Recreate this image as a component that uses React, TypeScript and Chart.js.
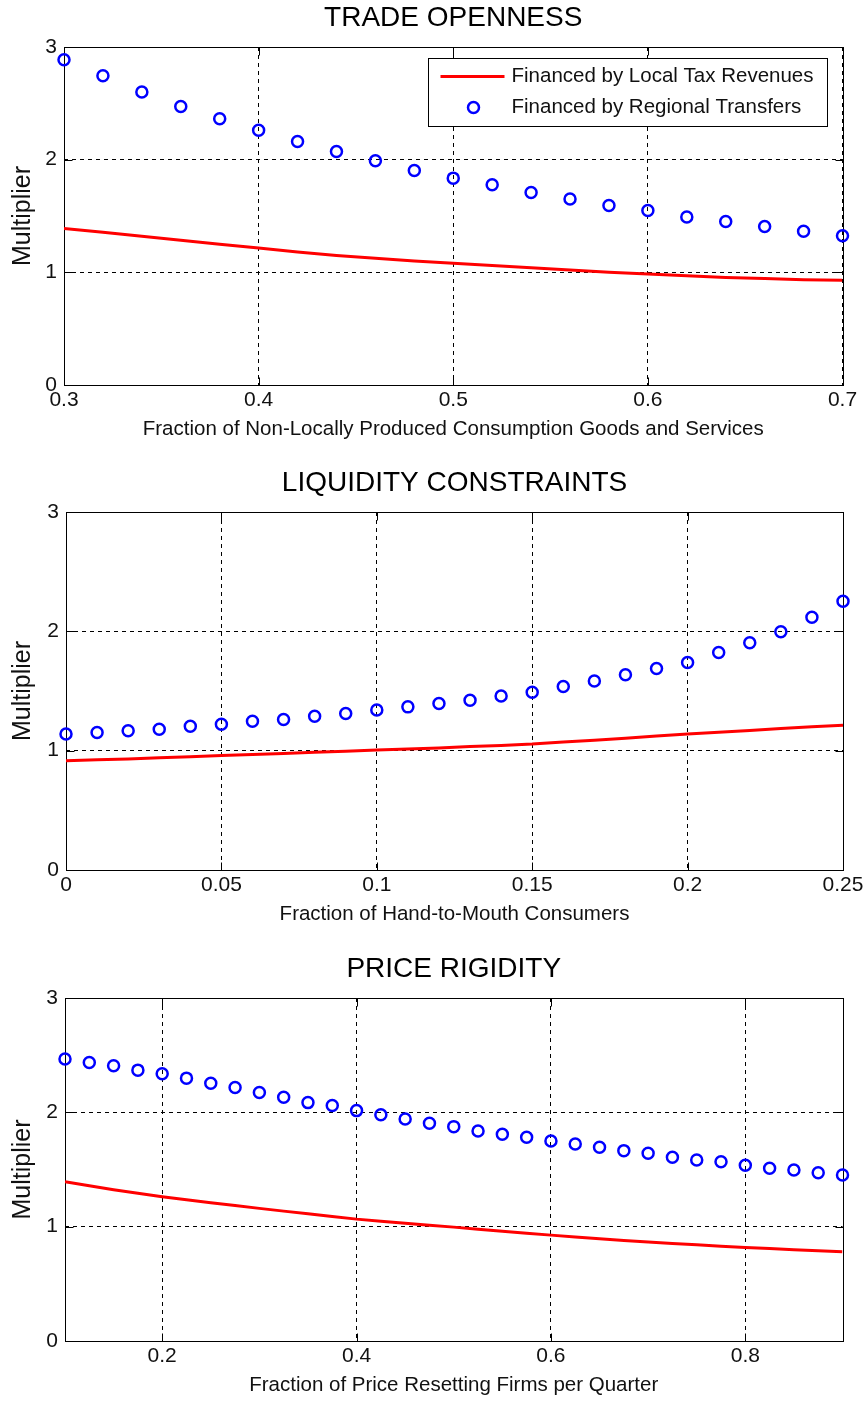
import { useEffect, useRef } from 'react';
import { Chart, registerables } from 'chart.js';

Chart.register(...registerables);

const FONT = '"Liberation Sans", Arial, Helvetica, sans-serif';

const LOCAL_LABEL = 'Financed by Local Tax Revenues';
const REGIONAL_LABEL = 'Financed by Regional Transfers';

// Multiplier axis (shared by all three panels)
const yTicks = [0, 1, 2, 3];
const yTickLabels = ['0', '1', '2', '3'];

// Panel 1: trade openness
const tradeX = [0.30, 0.32, 0.34, 0.36, 0.38, 0.40, 0.42, 0.44, 0.46, 0.48, 0.50, 0.52, 0.54, 0.56, 0.58, 0.60, 0.62, 0.64, 0.66, 0.68, 0.70];
const tradeLocal = [1.39, 1.355, 1.32, 1.285, 1.25, 1.215, 1.18, 1.15, 1.125, 1.10, 1.08, 1.06, 1.04, 1.02, 1.00, 0.985, 0.97, 0.955, 0.945, 0.935, 0.93];
const tradeRegional = [2.887, 2.745, 2.600, 2.472, 2.363, 2.262, 2.161, 2.073, 1.990, 1.904, 1.836, 1.777, 1.708, 1.650, 1.593, 1.548, 1.492, 1.451, 1.406, 1.365, 1.324];
const tradeTicks = [0.3, 0.4, 0.5, 0.6, 0.7];
const tradeTickLabels = ['0.3', '0.4', '0.5', '0.6', '0.7'];

// Panel 2: liquidity constraints
const liqX = [0, 0.01, 0.02, 0.03, 0.04, 0.05, 0.06, 0.07, 0.08, 0.09, 0.10, 0.11, 0.12, 0.13, 0.14, 0.15, 0.16, 0.17, 0.18, 0.19, 0.20, 0.21, 0.22, 0.23, 0.24, 0.25];
const liqLocal = [0.915, 0.923, 0.931, 0.940, 0.950, 0.960, 0.968, 0.977, 0.986, 0.995, 1.005, 1.014, 1.023, 1.034, 1.044, 1.055, 1.072, 1.088, 1.105, 1.122, 1.139, 1.155, 1.170, 1.186, 1.200, 1.214];
const liqRegional = [1.139, 1.153, 1.167, 1.180, 1.204, 1.222, 1.246, 1.262, 1.289, 1.312, 1.340, 1.367, 1.396, 1.423, 1.458, 1.490, 1.538, 1.583, 1.636, 1.689, 1.739, 1.823, 1.904, 1.996, 2.118, 2.252];
const liqTicks = [0, 0.05, 0.1, 0.15, 0.2, 0.25];
const liqTickLabels = ['0', '0.05', '0.1', '0.15', '0.2', '0.25'];

// Panel 3: price rigidity
const priceX = [0.100, 0.125, 0.150, 0.175, 0.200, 0.225, 0.250, 0.275, 0.300, 0.325, 0.350, 0.375, 0.400, 0.425, 0.450, 0.475, 0.500, 0.525, 0.550, 0.575, 0.600, 0.625, 0.650, 0.675, 0.700, 0.725, 0.750, 0.775, 0.800, 0.825, 0.850, 0.875, 0.900];
const priceLocal = [1.393, 1.357, 1.323, 1.292, 1.262, 1.236, 1.210, 1.185, 1.160, 1.136, 1.112, 1.089, 1.066, 1.048, 1.030, 1.013, 0.996, 0.978, 0.960, 0.943, 0.926, 0.910, 0.895, 0.880, 0.865, 0.853, 0.841, 0.829, 0.818, 0.808, 0.799, 0.789, 0.780];
const priceRegional = [2.466, 2.436, 2.407, 2.369, 2.337, 2.299, 2.255, 2.217, 2.173, 2.132, 2.085, 2.059, 2.015, 1.978, 1.942, 1.905, 1.875, 1.837, 1.808, 1.782, 1.750, 1.723, 1.694, 1.665, 1.642, 1.607, 1.583, 1.568, 1.537, 1.511, 1.496, 1.472, 1.452];
const priceTicks = [0.2, 0.4, 0.6, 0.8];
const priceTickLabels = ['0.2', '0.4', '0.6', '0.8'];

type Panel = {
  title: string;
  xTitle: string;
  xs: number[];
  local: number[];
  regional: number[];
  xMin: number;
  xMax: number;
  xTicks: number[];
  xTickLabels: string[];
  legend: boolean;
  top: number;
  height: number;
  padTop: number;
  padRight: number;
  yAxisWidth: number;
};

const panels: Panel[] = [
  {
    title: 'TRADE OPENNESS',
    xTitle: 'Fraction of Non-Locally Produced Consumption Goods and Services',
    xs: tradeX, local: tradeLocal, regional: tradeRegional,
    xMin: 0.3, xMax: 0.7, xTicks: tradeTicks, xTickLabels: tradeTickLabels,
    legend: true, top: 0, height: 445, padTop: 47, padRight: 24.5, yAxisWidth: 64,
  },
  {
    title: 'LIQUIDITY CONSTRAINTS',
    xTitle: 'Fraction of Hand-to-Mouth Consumers',
    xs: liqX, local: liqLocal, regional: liqRegional,
    xMin: 0, xMax: 0.25, xTicks: liqTicks, xTickLabels: liqTickLabels,
    legend: false, top: 455, height: 475, padTop: 57, padRight: 24, yAxisWidth: 66,
  },
  {
    title: 'PRICE RIGIDITY',
    xTitle: 'Fraction of Price Resetting Firms per Quarter',
    xs: priceX, local: priceLocal, regional: priceRegional,
    xMin: 0.1, xMax: 0.9, xTicks: priceTicks, xTickLabels: priceTickLabels,
    legend: false, top: 935, height: 466, padTop: 63, padRight: 24.5, yAxisWidth: 65,
  },
];

// Box, inward tick marks, titles and legend drawn around the plot area
const framePlugin = {
  id: 'matlabFrame',
  beforeDatasetsDraw(chart: any) {
    const { ctx, chartArea } = chart;
    const l = Math.round(chartArea.left) + 0.5;
    const r = Math.round(chartArea.right) + 0.5;
    const t = Math.round(chartArea.top) + 0.5;
    const b = Math.round(chartArea.bottom) + 0.5;
    const tl = 8;
    ctx.save();
    ctx.strokeStyle = '#000';
    ctx.lineWidth = 1;
    ctx.setLineDash([]);
    ctx.strokeRect(l, t, r - l, b - t);
    ctx.beginPath();
    for (const tk of chart.scales.x.ticks) {
      const px = Math.round(chart.scales.x.getPixelForValue(tk.value)) + 0.5;
      ctx.moveTo(px, b); ctx.lineTo(px, b - tl);
      ctx.moveTo(px, t); ctx.lineTo(px, t + tl);
    }
    for (const tk of chart.scales.y.ticks) {
      const py = Math.round(chart.scales.y.getPixelForValue(tk.value)) + 0.5;
      ctx.moveTo(l, py); ctx.lineTo(l + tl, py);
      ctx.moveTo(r, py); ctx.lineTo(r - tl, py);
    }
    ctx.stroke();
    ctx.restore();
  },
  afterDraw(chart: any, _args: any, opts: any) {
    const { ctx, chartArea } = chart;
    const cx = (chartArea.left + chartArea.right) / 2;
    const cy = (chartArea.top + chartArea.bottom) / 2;
    ctx.save();
    ctx.fillStyle = '#000';
    ctx.textAlign = 'center';
    ctx.textBaseline = 'middle';
    ctx.font = `28px ${FONT}`;
    ctx.fillText(opts.title, cx, chartArea.top - 29);
    ctx.font = `20.5px ${FONT}`;
    ctx.fillStyle = '#111';
    ctx.fillText(opts.xTitle, cx, chartArea.bottom + 44.5);
    ctx.save();
    ctx.translate(23, cy);
    ctx.rotate(-Math.PI / 2);
    ctx.font = `25px ${FONT}`;
    ctx.fillText('Multiplier', 0, 0);
    ctx.restore();

    if (opts.legend) {
      const w = 399;
      const h = 68;
      const bx = Math.round(chartArea.right - 15.5 - w) + 0.5;
      const by = Math.round(chartArea.top + 11) + 0.5;
      ctx.fillStyle = '#fff';
      ctx.fillRect(bx, by, w, h);
      ctx.strokeStyle = '#000';
      ctx.lineWidth = 1;
      ctx.setLineDash([]);
      ctx.strokeRect(bx, by, w, h);
      const rows = [by + 18, by + 49];
      chart.data.datasets.forEach((ds: any, i: number) => {
        const ry = rows[i];
        ctx.save();
        if (ds.pointRadius === 0) {
          ctx.strokeStyle = ds.borderColor;
          ctx.lineWidth = ds.borderWidth;
          ctx.beginPath();
          ctx.moveTo(bx + 12, ry);
          ctx.lineTo(bx + 76, ry);
          ctx.stroke();
        } else {
          ctx.strokeStyle = ds.borderColor;
          ctx.lineWidth = ds.borderWidth;
          ctx.beginPath();
          ctx.arc(bx + 45, ry, ds.pointRadius, 0, Math.PI * 2);
          ctx.stroke();
        }
        ctx.restore();
        ctx.fillStyle = '#111';
        ctx.textAlign = 'left';
        ctx.textBaseline = 'middle';
        ctx.font = `20.5px ${FONT}`;
        ctx.fillText(ds.label, bx + 83, ry);
      });
    }
    ctx.restore();
  },
};

function PanelChart({ panel }: { panel: Panel }) {
  const ref = useRef<HTMLCanvasElement | null>(null);

  useEffect(() => {
    if (!ref.current) return;
    const gridCommon = {
      color: '#000',
      lineWidth: 1,
      drawTicks: false,
    };
    const chart = new Chart(ref.current, {
      type: 'scatter',
      data: {
        datasets: [
          {
            type: 'line',
            label: LOCAL_LABEL,
            data: panel.xs.map((x, i) => ({ x, y: panel.local[i] })),
            borderColor: '#ff0000',
            backgroundColor: '#ff0000',
            borderWidth: 3,
            pointRadius: 0,
            showLine: true,
            fill: false,
            tension: 0,
            order: 2,
          },
          {
            type: 'scatter',
            label: REGIONAL_LABEL,
            data: panel.xs.map((x, i) => ({ x, y: panel.regional[i] })),
            borderColor: '#0000ff',
            backgroundColor: 'rgba(0,0,0,0)',
            borderWidth: 2.5,
            pointRadius: 5.5,
            pointStyle: 'circle',
            clip: false,
            order: 1,
          },
        ] as any,
      },
      options: {
        animation: false,
        responsive: false,
        maintainAspectRatio: false,
        events: [],
        layout: { padding: { left: 0, right: panel.padRight, top: panel.padTop, bottom: 0 } },
        plugins: {
          legend: { display: false },
          title: { display: false },
          tooltip: { enabled: false },
          matlabFrame: { title: panel.title, xTitle: panel.xTitle, legend: panel.legend },
        } as any,
        scales: {
          x: {
            type: 'linear',
            min: panel.xMin,
            max: panel.xMax,
            afterBuildTicks: (s: any) => {
              s.ticks = panel.xTicks.map((v) => ({ value: v }));
            },
            afterFit: (s: any) => {
              s.height = 60;
            },
            grid: gridCommon,
            border: { display: false, dash: [4, 4] },
            ticks: {
              padding: 3,
              color: '#111',
              font: { family: FONT, size: 21 },
              maxRotation: 0,
              autoSkip: false,
              callback: (_v: any, i: number) => panel.xTickLabels[i],
            },
          },
          y: {
            type: 'linear',
            min: 0,
            max: 3,
            afterBuildTicks: (s: any) => {
              s.ticks = yTicks.map((v) => ({ value: v }));
            },
            afterFit: (s: any) => {
              s.width = panel.yAxisWidth;
            },
            grid: gridCommon,
            border: { display: false, dash: [4, 4] },
            ticks: {
              padding: 7,
              color: '#111',
              font: { family: FONT, size: 21 },
              autoSkip: false,
              callback: (_v: any, i: number) => yTickLabels[i],
            },
          },
        },
      } as any,
      plugins: [framePlugin],
    });
    return () => chart.destroy();
  }, [panel]);

  return (
    <canvas
      ref={ref}
      width={867}
      height={panel.height}
      style={{ position: 'absolute', left: 0, top: panel.top, width: 867, height: panel.height }}
    />
  );
}

export default function App() {
  return (
    <div style={{ position: 'absolute', left: 0, top: 0, width: 867, height: 1401, background: '#fff', overflow: 'hidden' }}>
      {panels.map((p) => (
        <PanelChart key={p.title} panel={p} />
      ))}
    </div>
  );
}
